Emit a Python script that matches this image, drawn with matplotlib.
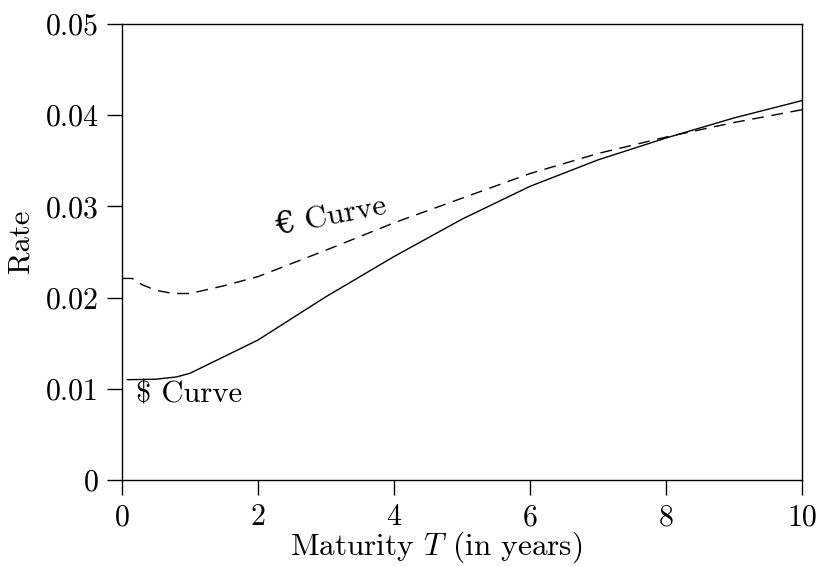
import matplotlib
matplotlib.use("Agg")
import matplotlib.pyplot as plt

plt.rcParams['font.family'] = ['cmr10', 'DejaVu Serif']
plt.rcParams['mathtext.fontset'] = 'cm'
plt.rcParams['axes.formatter.use_mathtext'] = True

# dollar curve (solid)
usd_t = [0.08, 0.5, 0.8, 1.0, 2, 3, 4, 5, 6, 7, 8, 9, 10]
usd_rate = [0.0110, 0.01105, 0.0113, 0.0117, 0.01535, 0.0201, 0.0245,
            0.0286, 0.0322, 0.0351, 0.0375, 0.0397, 0.0416]

# euro curve (dashed)
eur_t = [0.0, 0.15, 0.3, 0.5, 0.75, 1.0, 1.5, 2, 3, 4, 5, 6, 7, 8, 9, 10]
eur_rate = [0.0221, 0.0221, 0.0214, 0.0208, 0.02045, 0.02045, 0.0213, 0.0223,
            0.0252, 0.0282, 0.0309, 0.0336, 0.0358, 0.0376, 0.0392, 0.0406]

x_ticks = [0, 2, 4, 6, 8, 10]
y_ticks = [0, 0.01, 0.02, 0.03, 0.04, 0.05]
y_tick_labels = ['0', '0.01', '0.02', '0.03', '0.04', '0.05']

fig = plt.figure(figsize=(8.16, 5.66), dpi=100)
ax = fig.add_axes([122 / 816, 86 / 566, 680 / 816, 456 / 566])

ax.plot(usd_t, usd_rate, color='black', lw=1.0)
ax.plot(eur_t, eur_rate, color='black', lw=1.0, dashes=(8.5, 5.5))

ax.text(0.2, 0.0093, '$ Curve', fontsize=22, ha='left', va='center')
ax.text(3.07, 0.0290, '\u20ac Curve', fontsize=22.5, ha='center', va='center',
        rotation=11)

ax.set_xlim(0, 10)
ax.set_ylim(0, 0.05)
ax.set_xticks(x_ticks)
ax.set_xticklabels([str(t) for t in x_ticks])
ax.set_yticks(y_ticks)
ax.set_yticklabels(y_tick_labels)
ax.tick_params(direction='out', length=11, width=1.0, labelsize=21.5,
               top=False, right=False, pad=6)
for s in ax.spines.values():
    s.set_linewidth(1.0)

ax.set_xlabel('Maturity $T$ (in years)', fontsize=22.5)
ax.xaxis.set_label_coords(0.462, -0.108)
ax.set_ylabel('Rate', fontsize=22)
ax.yaxis.set_label_coords(-0.129, 0.524)

fig.savefig('out.png', dpi=100)
